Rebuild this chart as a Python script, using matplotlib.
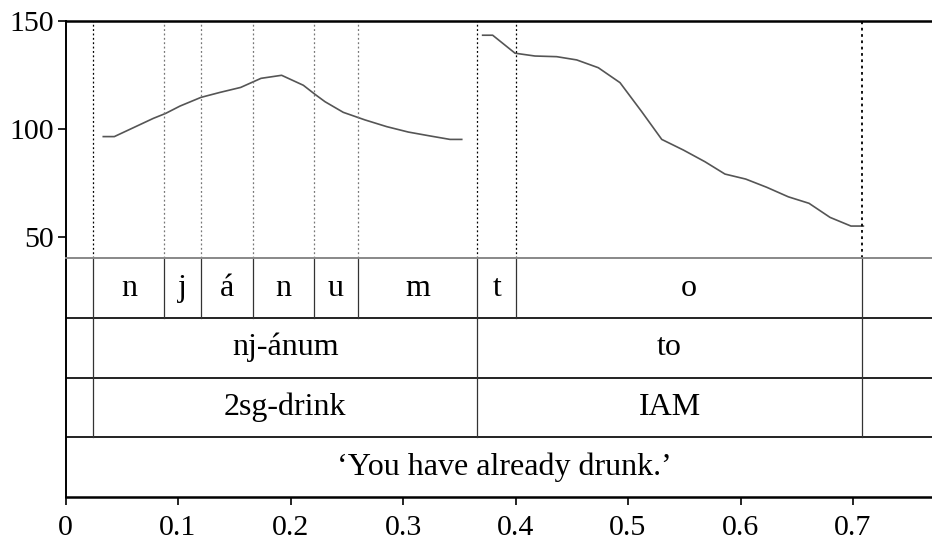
import matplotlib.pyplot as plt
import numpy as np

plt.rcParams['font.family'] = ['Liberation Serif', 'DejaVu Serif']

# pitch track (Hz), two voiced stretches
t1 = [0.0336, 0.0434, 0.0603, 0.078, 0.089, 0.1018, 0.1204, 0.1373, 0.1557, 0.1738,
      0.1921, 0.2114, 0.2218, 0.2307, 0.2469, 0.2662, 0.2855, 0.3047, 0.324, 0.3418, 0.3522]
f1 = [96.5, 96.5, 100.6, 104.9, 107.2, 110.6, 114.6, 116.9, 119.2, 123.4,
      124.8, 120.2, 116.0, 112.6, 107.7, 104.2, 101.1, 98.6, 96.8, 95.2, 95.2]
t2 = [0.3708, 0.3797, 0.3996, 0.4173, 0.4366, 0.4544, 0.4736, 0.4929, 0.5122, 0.53,
      0.5492, 0.5684, 0.5862, 0.6046, 0.6233, 0.6425, 0.6609, 0.6796, 0.6982, 0.7092]
f2 = [143.3, 143.3, 135.0, 133.7, 133.4, 131.9, 128.3, 121.4, 108.0, 95.2,
      90.3, 84.9, 79.2, 76.9, 73.1, 68.7, 65.7, 59.2, 55.2, 55.2]

# textgrid tiers
phone_bounds = [0.0247, 0.0878, 0.1204, 0.1664, 0.2212, 0.2597, 0.366, 0.4007, 0.708]
phone_labels = ['n', 'j', 'á', 'n', 'u', 'm', 't', 'o']
word_bounds = [0.0247, 0.366, 0.708]
word_labels = ['nj-ánum', 'to']
gloss_labels = ['2sg-drink', 'IAM']
translation = '\u2018You have already drunk.\u2019'

xmax = 0.78
fs = 21.5  # tick labels
tfs = 23   # tier labels

fig = plt.figure(figsize=(9.32, 5.45), dpi=100)
left = 65.5 / 932
width = (xmax * 1125) / 932
ax = fig.add_axes([left, 0.526, width, 0.436])
tx = fig.add_axes([left, 0.0886, width, 0.4374])

# pitch panel
ax.plot(t1, f1, color='#555555', lw=1.2)
ax.plot(t2, f2, color='#555555', lw=1.2)
ax.set_xlim(0, xmax)
ax.set_ylim(40.3, 150)
ax.set_yticks([50, 100, 150])
ax.tick_params(axis='y', direction='out', length=6, width=1.2, labelsize=fs, pad=2)
ax.set_xticks([])
for s in ['right', 'bottom']:
    ax.spines[s].set_visible(False)
ax.spines['top'].set_linewidth(1.8)
ax.spines['left'].set_linewidth(1.4)

for b in phone_bounds:
    if b in word_bounds or b == 0.4007:
        ax.axvline(b, color='black', lw=1.3 if b == 0.708 else 0.9, ls=(0, (1.5, 2)))
    else:
        ax.axvline(b, color='#777777', lw=0.9, ls=(0, (1.5, 2)))

# tier panel
tx.set_xlim(0, xmax)
tx.set_ylim(0, 4)
tx.set_yticks([])
tx.set_xticks(np.arange(0, 0.71, 0.1))
tx.set_xticklabels(['0', '0.1', '0.2', '0.3', '0.4', '0.5', '0.6', '0.7'])
tx.tick_params(axis='x', direction='out', length=6, width=1.2, labelsize=fs, pad=7)
tx.spines['right'].set_visible(False)
tx.spines['top'].set_color('#888888')
tx.spines['top'].set_linewidth(1.4)
tx.spines['left'].set_linewidth(1.4)
tx.spines['bottom'].set_linewidth(1.8)
for y in [1, 2, 3]:
    tx.axhline(y, color='#222222', lw=1.4)

for b in phone_bounds:
    tx.plot([b, b], [3, 4], color='#333333', lw=0.9)
for b in word_bounds:
    tx.plot([b, b], [1, 3], color='#333333', lw=0.9)

for i, lab in enumerate(phone_labels):
    tx.text((phone_bounds[i] + phone_bounds[i + 1]) / 2, 3.5, lab,
            ha='center', va='center', fontsize=tfs)
for i in range(len(word_labels)):
    xc = (word_bounds[i] + word_bounds[i + 1]) / 2
    tx.text(xc, 2.5, word_labels[i], ha='center', va='center', fontsize=tfs)
    tx.text(xc, 1.5, gloss_labels[i], ha='center', va='center', fontsize=tfs)
tx.text(xmax / 2, 0.5, translation, ha='center', va='center', fontsize=tfs)

fig.savefig('out.png', dpi=100)
